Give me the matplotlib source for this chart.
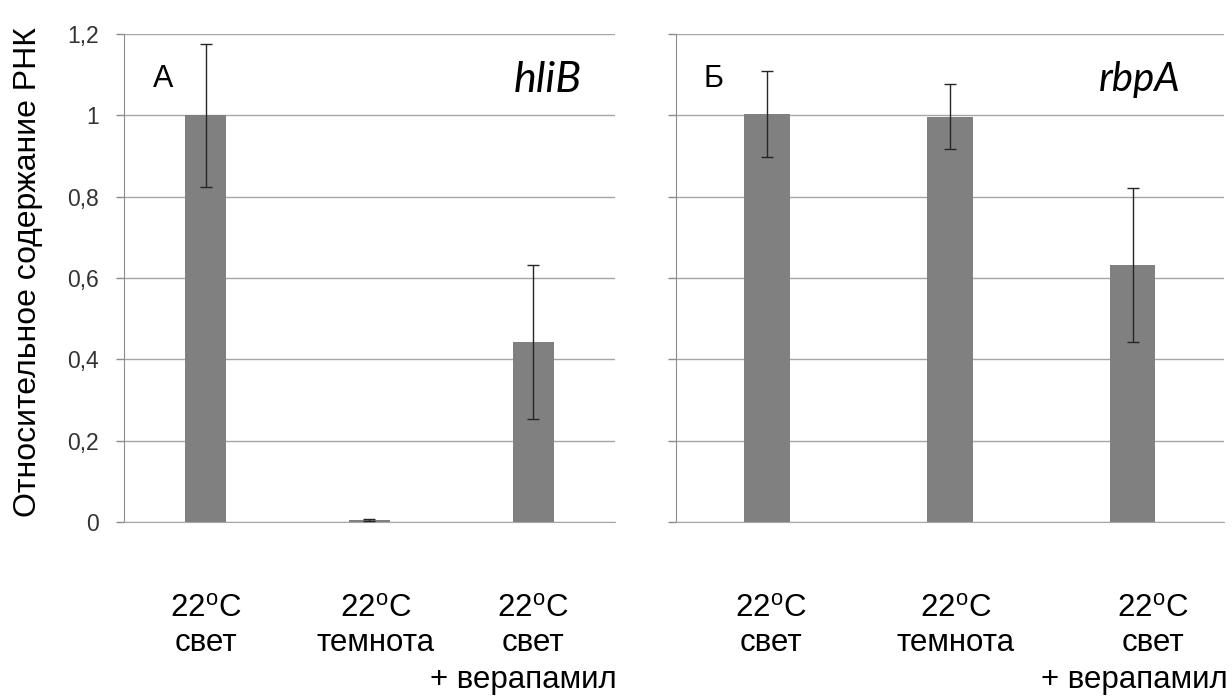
"""
Relative RNA content, hliB and rbpA, bar chart with error bars
"""
import numpy as np
import matplotlib
matplotlib.use("Agg")
import matplotlib.pyplot as plt
from matplotlib import transforms

plt.rcParams['font.family'] = ['Liberation Sans', 'DejaVu Sans']
plt.rcParams['mathtext.fontset'] = 'custom'
plt.rcParams['mathtext.rm'] = 'Liberation Sans'

# Data
hlib_mean = [1.0, 0.005, 0.443]
hlib_err = [0.175, 0.002, 0.19]
rbpa_mean = [1.003, 0.997, 0.632]
rbpa_err = [0.105, 0.08, 0.19]

label_line1 = ["22$^{\\mathrm{o}}$C", "22$^{\\mathrm{o}}$C", "22$^{\\mathrm{o}}$C"]
label_line2 = ["свет", "темнота", "свет"]
label_line3 = ["", "", "+ верапамил"]

ytick_vals = [0, 0.2, 0.4, 0.6, 0.8, 1.0, 1.2]
ytick_labels = ['0', '0,2', '0,4', '0,6', '0,8', '1', '1,2']

# layout: label shifts (data units) per panel, lines 1-2 and line 3
shift_left = [0.0, 0.04, 0.0]
shift_left3 = [0.0, 0.0, -0.06]
shift_right = [0.02, 0.03, 0.11]
shift_right3 = [0.0, 0.0, 0.01]

fig = plt.figure(figsize=(12.32, 6.96), dpi=100)
ax1 = fig.add_axes([0.1006, 0.25, 0.3986, 0.7011])
ax2 = fig.add_axes([0.5487, 0.25, 0.4448, 0.7011])

bar_color = '#808080'
grid_color = '#a6a6a6'
x = np.arange(3)


def style_panel(ax, show_labels):
    ax.set_xlim(-0.5, 2.5)
    ax.set_ylim(0, 1.2)
    ax.set_yticks(ytick_vals)
    if show_labels:
        ax.set_yticklabels(ytick_labels, fontsize=16.5, color='#333333')
    else:
        ax.set_yticklabels([])
    ax.set_xticks([])
    ax.tick_params(axis='y', length=6, width=1, color='#8c8c8c', pad=12)
    ax.set_axisbelow(True)
    ax.yaxis.grid(True, color=grid_color, lw=1)
    for s in ['top', 'right']:
        ax.spines[s].set_visible(False)
    ax.spines['left'].set_color('#8c8c8c')
    ax.spines['bottom'].set_color(grid_color)


def draw_bars(ax, mean, err):
    ax.bar(x, mean, width=0.25, color=bar_color, zorder=2)
    ax.errorbar(x, mean, yerr=err, fmt='none', ecolor='#262626',
                elinewidth=1, capsize=4, capthick=1, zorder=3)


def draw_labels(ax, shifts, shifts3):
    trans = transforms.blended_transform_factory(ax.transData, fig.transFigure)
    for i in range(3):
        ax.text(x[i] + shifts[i], 0.1135, label_line1[i], transform=trans,
                ha='center', va='baseline', fontsize=22.5)
        ax.text(x[i] + shifts[i], 0.0647, label_line2[i], transform=trans,
                ha='center', va='baseline', fontsize=22.5)
        if label_line3[i]:
            ax.text(x[i] + shifts3[i], 0.0115, label_line3[i], transform=trans,
                    ha='center', va='baseline', fontsize=22.5)


style_panel(ax1, True)
style_panel(ax2, False)
draw_bars(ax1, hlib_mean, hlib_err)
draw_bars(ax2, rbpa_mean, rbpa_err)
draw_labels(ax1, shift_left, shift_left3)
draw_labels(ax2, shift_right, shift_right3)

ax1.text(0.079, 0.891, 'А', transform=ax1.transAxes, ha='center',
         va='baseline', fontsize=22)
ax2.text(0.069, 0.891, 'Б', transform=ax2.transAxes, ha='center',
         va='baseline', fontsize=22)
ax1.text(0.933, 0.881, 'hliB', transform=ax1.transAxes, ha='right',
         va='baseline', fontsize=31, style='italic', family='Lato')
ax2.text(0.920, 0.883, 'rbpA', transform=ax2.transAxes, ha='right',
         va='baseline', fontsize=29, style='italic', family='Lato')

fig.text(0.0227, 0.609, 'Относительное содержание РНК', rotation=90,
         ha='center', va='center', fontsize=23)

plt.savefig('out.png', dpi=100)
